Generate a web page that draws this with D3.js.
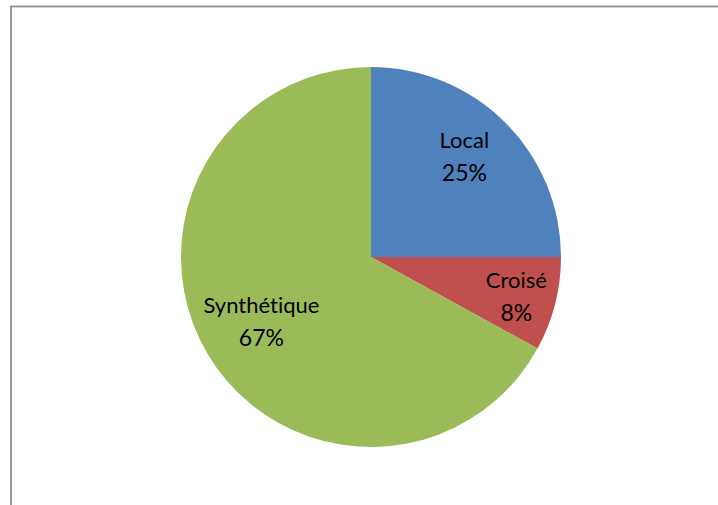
<!DOCTYPE html>
<html>
<head>
<meta charset="utf-8">
<script src="https://cdn.jsdelivr.net/npm/d3@7"></script>
<style>
  html, body { margin: 0; padding: 0; background: #fff; }
  svg { display: block; }
  text { font-variant-ligatures: none; font-feature-settings: "liga" 0; }
</style>
</head>
<body>
<script>
// Répartition des types
const categories = ["Local", "Croisé", "Synthétique"];
const values = [25, 8, 67];
const colors = ["#4F81BD", "#C0504D", "#9BBB59"];

const width = 718, height = 505;
const cx = 371, cy = 257, radius = 190;

const svg = d3.select("body").append("svg")
  .attr("width", width)
  .attr("height", height);

// Chart frame
svg.append("rect")
  .attr("x", 11).attr("y", 6.5)
  .attr("width", width + 10).attr("height", height + 10)
  .attr("fill", "#fff")
  .attr("stroke", "#8c8c8c")
  .attr("stroke-width", 1.75);

const data = categories.map((c, i) => ({ name: c, value: values[i], color: colors[i] }));

const pie = d3.pie().value(d => d.value).sort(null);
const arcs = pie(data);
const arc = d3.arc().innerRadius(0).outerRadius(radius);

const g = svg.append("g").attr("transform", `translate(${cx},${cy})`);

g.selectAll("path.slice")
  .data(arcs)
  .join("path")
  .attr("class", "slice")
  .attr("d", arc)
  .attr("fill", d => d.data.color);

const total = d3.sum(values);
// Distance of each data label from the centre (fraction of the radius) plus a small nudge
const labelRadius = { "Local": 0.71, "Croisé": 0.79, "Synthétique": 0.67 };
const labelNudge = { "Local": [-2, -4], "Croisé": [0, 4], "Synthétique": [0, 1] };

const labels = g.selectAll("g.label")
  .data(arcs)
  .join("g")
  .attr("class", "label")
  .attr("transform", d => {
    const a = (d.startAngle + d.endAngle) / 2;
    const r = radius * labelRadius[d.data.name];
    const [nx, ny] = labelNudge[d.data.name];
    return `translate(${Math.sin(a) * r + nx},${-Math.cos(a) * r + ny})`;
  });

labels.append("text")
  .attr("text-anchor", "middle")
  .attr("y", -10)
  .attr("font-family", "Lato, 'Open Sans', sans-serif")
  .attr("font-size", 22)
  .attr("fill", "#000")
  .text(d => d.data.name);

labels.append("text")
  .attr("text-anchor", "middle")
  .attr("y", 23)
  .attr("font-family", "Lato, 'Open Sans', sans-serif")
  .attr("font-size", 23)
  .attr("fill", "#000")
  .text(d => Math.round(d.data.value / total * 100) + "%");
</script>
</body>
</html>
